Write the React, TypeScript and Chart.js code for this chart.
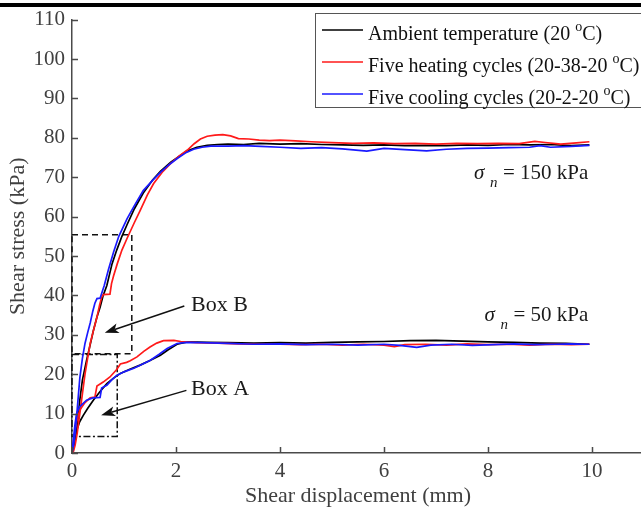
import React, { useEffect, useRef } from 'react';
import { Chart, registerables } from 'chart.js';

Chart.register(...registerables);

// ---------- data (x: shear displacement mm, y: shear stress kPa) ----------
const ambient150: number[][] = [
  [0, 0], [0.03, 1.5], [0.06, 3], [0.1, 7], [0.15, 13.4], [0.2, 18.5], [0.28, 23.5], [0.35, 27.5],
  [0.41, 31], [0.48, 34.5], [0.54, 37], [0.6, 40], [0.67, 42.5], [0.77, 48], [0.86, 51.5],
  [0.96, 55], [1.06, 58], [1.2, 62], [1.37, 66], [1.55, 69.3], [1.7, 71.5], [1.9, 73.8],
  [2.03, 75], [2.2, 76.6], [2.4, 77.6], [2.6, 78.1], [2.8, 78.3], [3.0, 78.4], [3.3, 78.3],
  [3.6, 78.6], [4.0, 78.4], [4.4, 78.5], [4.8, 78.3], [5.2, 78.2], [5.6, 78.1], [6.0, 78.2],
  [6.4, 78.0], [6.8, 78.1], [7.2, 78.0], [7.6, 78.2], [8.0, 78.1], [8.4, 78.3], [8.8, 78.2],
  [9.2, 78.3], [9.6, 78.0], [9.95, 78.2],
];
const heating150: number[][] = [
  [0, 0], [0.03, 0.5], [0.06, 2], [0.1, 5], [0.15, 10], [0.2, 15], [0.25, 20], [0.3, 24],
  [0.35, 27.8], [0.42, 31.5], [0.48, 34.5], [0.53, 37.5], [0.57, 39.5], [0.6, 40.2], [0.73, 40.3],
  [0.76, 43], [0.8, 45], [0.87, 48], [0.96, 51.5], [1.06, 54.5], [1.2, 58.5], [1.31, 61.5],
  [1.45, 65.5], [1.57, 68.4], [1.75, 71.5], [1.89, 73.4], [2.05, 75.3], [2.22, 76.9], [2.35, 78.5],
  [2.47, 79.7], [2.6, 80.4], [2.75, 80.7], [2.9, 80.8], [3.05, 80.5], [3.2, 79.8], [3.4, 79.7],
  [3.6, 79.4], [3.8, 79.3], [4.0, 79.4], [4.3, 79.2], [4.6, 79.0], [5.0, 78.8], [5.4, 78.6],
  [5.8, 78.7], [6.2, 78.5], [6.6, 78.6], [7.0, 78.4], [7.4, 78.6], [7.8, 78.5], [8.2, 78.6],
  [8.6, 78.5], [8.9, 79.1], [9.1, 78.8], [9.4, 78.4], [9.7, 78.7], [9.95, 79.0],
];
const cooling150: number[][] = [
  [0, 0], [0.03, 2], [0.06, 5], [0.1, 11], [0.15, 19], [0.2, 24], [0.25, 27.8], [0.3, 30.5],
  [0.35, 33], [0.4, 36], [0.44, 38], [0.48, 39.2], [0.54, 39.3], [0.57, 40.5], [0.62, 42.5],
  [0.7, 46.5], [0.8, 51], [0.9, 55], [1.06, 59.5], [1.2, 62.8], [1.37, 66.6], [1.55, 69.2],
  [1.7, 71.2], [1.85, 73], [2.03, 74.8], [2.2, 76.3], [2.34, 77.1], [2.5, 77.6], [2.67, 77.9],
  [3.0, 77.9], [3.3, 78.0], [3.63, 77.8], [4.0, 77.6], [4.4, 77.3], [4.8, 77.5], [5.2, 77.2],
  [5.67, 76.6], [6.0, 77.3], [6.4, 77.0], [6.82, 76.7], [7.2, 77.1], [7.6, 77.3], [8.0, 77.4],
  [8.4, 77.5], [8.8, 77.6], [9.0, 78.0], [9.2, 77.6], [9.6, 77.8], [9.95, 78.1],
];
const ambient50: number[][] = [
  [0, 0], [0.04, 2.5], [0.09, 5.8], [0.15, 8], [0.22, 9.6], [0.3, 11.3], [0.41, 13.4],
  [0.54, 15.6], [0.67, 17.6], [0.8, 19], [0.93, 20.2], [1.1, 21.2], [1.31, 22.3], [1.5, 23.5],
  [1.7, 24.8], [1.85, 26.2], [2.02, 27.6], [2.22, 28.2], [2.6, 28.1], [3.0, 28.0], [3.5, 27.9],
  [4.0, 28.0], [4.5, 27.9], [5.0, 28.1], [5.5, 28.2], [6.0, 28.3], [6.5, 28.5], [7.0, 28.6],
  [7.5, 28.4], [8.0, 28.2], [8.5, 28.1], [9.0, 27.9], [9.5, 27.8], [9.95, 27.6],
];
const heating50: number[][] = [
  [0, 0], [0.04, 4], [0.08, 7.5], [0.15, 10.9], [0.25, 12.8], [0.35, 14], [0.44, 14.2],
  [0.48, 17], [0.6, 18], [0.73, 19.3], [0.86, 21.2], [0.93, 22.6], [1.05, 23], [1.12, 23.4],
  [1.25, 24.4], [1.38, 25.8], [1.5, 26.9], [1.63, 27.9], [1.76, 28.5], [1.96, 28.6], [2.09, 28.3],
  [2.4, 28.0], [2.8, 27.9], [3.2, 27.7], [3.6, 27.6], [4.0, 27.6], [4.4, 27.5], [4.8, 27.6],
  [5.2, 27.4], [5.6, 27.6], [6.0, 27.4], [6.2, 27.0], [6.4, 27.5], [6.8, 27.6], [7.2, 27.4],
  [7.6, 27.7], [8.0, 27.5], [8.4, 27.6], [8.8, 27.4], [9.2, 27.6], [9.6, 27.5], [9.95, 27.6],
];
const cooling50: number[][] = [
  [0, 0], [0.03, 4], [0.06, 7.5], [0.09, 10.1], [0.15, 11.8], [0.28, 13.4], [0.4, 14],
  [0.54, 14.1], [0.57, 16.5], [0.62, 16.9], [0.67, 17.2], [0.76, 18.5], [0.86, 19.7], [1.0, 20.6],
  [1.19, 21.5], [1.35, 22.5], [1.5, 23.5], [1.67, 25], [1.83, 26.5], [2.02, 27.8], [2.2, 28.1],
  [2.5, 28.0], [3.0, 27.8], [3.5, 27.6], [4.0, 27.7], [4.5, 27.5], [5.0, 27.6], [5.5, 27.4],
  [6.0, 27.6], [6.3, 27.3], [6.63, 26.8], [6.9, 27.4], [7.3, 27.6], [7.7, 27.3], [8.1, 27.5],
  [8.5, 27.7], [8.9, 27.5], [9.3, 27.6], [9.6, 27.7], [9.95, 27.6],
];

const legendLabels: string[][] = [
  ['Ambient temperature (20 ', 'C)'],
  ['Five heating cycles (20-38-20 ', 'C)'],
  ['Five cooling cycles (20-2-20 ', 'C)'],
];
const seriesColors = ['#000000', '#ff1a1a', '#1a1aff'];

const xRange = [0, 11];
const yRange = [0, 110];
const xStep = 2;
const yStep = 10;
const xTitle = 'Shear displacement (mm)';
const yTitle = 'Shear stress (kPa)';

// annotation boxes [x0, x1, y0, y1] in data units
const boxB = [0, 1.15, 25.2, 55.4];
const boxA = [0, 0.87, 4.2, 25];
// arrows [xFrom, yFrom, xTo, yTo] in data units
const arrowB = [2.16, 37.3, 0.63, 30.5];
const arrowA = [2.2, 15.9, 0.56, 9.6];
const boxLabels = ['Box B', 'Box A'];
const boxLabelPos = [[2.29, 37.4], [2.29, 16.2]];
const stressLabels = ['150 kPa', '50 kPa'];
const stressLabelPos = [[9.93, 71.4], [9.93, 35.3]];

const FONT = "'Liberation Serif', 'Times New Roman', Times, serif";
const AXIS_COLOR = '#4a4a4a';

const overlayPlugin = {
  id: 'overlay',
  beforeDatasetsDraw(chart: any) {
    const { ctx } = chart;
    const xs = chart.scales.x;
    const ys = chart.scales.y;
    const rect = (b: number[], dash: number[]) => {
      const x0 = xs.getPixelForValue(b[0]);
      const x1 = xs.getPixelForValue(b[1]);
      const y0 = ys.getPixelForValue(b[2]);
      const y1 = ys.getPixelForValue(b[3]);
      ctx.save();
      ctx.strokeStyle = '#111';
      ctx.lineWidth = 1.5;
      ctx.setLineDash(dash);
      ctx.strokeRect(x0, y1, x1 - x0, y0 - y1);
      ctx.restore();
    };
    rect(boxB, [6, 4]);
    rect(boxA, [7, 2.5, 2, 2.5]);
  },
  afterDatasetsDraw(chart: any) {
    const { ctx } = chart;
    const xs = chart.scales.x;
    const ys = chart.scales.y;
    const px = (v: number) => xs.getPixelForValue(v);
    const py = (v: number) => ys.getPixelForValue(v);

    // arrows
    const drawArrow = (a: number[]) => {
      const x1 = px(a[0]), y1 = py(a[1]), x2 = px(a[2]), y2 = py(a[3]);
      const ang = Math.atan2(y2 - y1, x2 - x1);
      const c = Math.cos(ang), s = Math.sin(ang);
      const hl = 14, hw = 5;
      const bx = x2 - hl * c, by = y2 - hl * s;
      const nx = x2 - hl * 0.75 * c, ny = y2 - hl * 0.75 * s;
      ctx.save();
      ctx.strokeStyle = '#111';
      ctx.fillStyle = '#111';
      ctx.lineWidth = 1.5;
      ctx.beginPath();
      ctx.moveTo(x1, y1);
      ctx.lineTo(nx, ny);
      ctx.stroke();
      ctx.beginPath();
      ctx.moveTo(x2, y2);
      ctx.lineTo(bx - hw * s, by + hw * c);
      ctx.lineTo(nx, ny);
      ctx.lineTo(bx + hw * s, by - hw * c);
      ctx.closePath();
      ctx.fill();
      ctx.restore();
    };
    drawArrow(arrowB);
    drawArrow(arrowA);

    ctx.save();
    ctx.fillStyle = '#1a1a1a';
    ctx.textBaseline = 'middle';
    ctx.textAlign = 'left';
    ctx.font = `22px ${FONT}`;
    boxLabels.forEach((t, i) => {
      ctx.fillText(t, px(boxLabelPos[i][0]), py(boxLabelPos[i][1]));
    });

    // sigma_n labels
    stressLabels.forEach((t, i) => {
      const xr = px(stressLabelPos[i][0]);
      const yc = py(stressLabelPos[i][1]);
      ctx.font = `21px ${FONT}`;
      ctx.textAlign = 'right';
      ctx.textBaseline = 'alphabetic';
      const main = '= ' + t;
      const w = ctx.measureText(main).width;
      const base = yc + 7;
      ctx.fillText(main, xr, base);
      ctx.font = `italic 15px ${FONT}`;
      ctx.textAlign = 'left';
      ctx.fillText('n', xr - w - 13, base + 8);
      ctx.font = `italic 21px ${FONT}`;
      ctx.fillText('\u03c3', xr - w - 29, base);
    });
    ctx.restore();

    // legend
    ctx.save();
    const lx = 315.5, ly = 13.5, lw = 340, lh = 94;
    ctx.fillStyle = '#ffffff';
    ctx.fillRect(lx, ly, lw, lh);
    ctx.strokeStyle = '#555';
    ctx.lineWidth = 1;
    ctx.strokeRect(lx, ly, lw, lh);
    legendLabels.forEach((parts, i) => {
      const base = 39.5 + i * 32;
      const lineY = base - 9.5;
      ctx.strokeStyle = seriesColors[i];
      ctx.lineWidth = 1.6;
      ctx.beginPath();
      ctx.moveTo(322, lineY);
      ctx.lineTo(363, lineY);
      ctx.stroke();
      ctx.fillStyle = '#111';
      ctx.textAlign = 'left';
      ctx.textBaseline = 'alphabetic';
      ctx.font = `20px ${FONT}`;
      let x = 368;
      ctx.fillText(parts[0], x, base);
      x += ctx.measureText(parts[0]).width;
      ctx.font = `14px ${FONT}`;
      ctx.fillText('o', x, base - 9);
      x += ctx.measureText('o').width;
      ctx.font = `20px ${FONT}`;
      ctx.fillText(parts[1], x, base);
    });
    ctx.restore();
  },
  afterDraw(chart: any) {
    const { ctx, chartArea } = chart;
    const xs = chart.scales.x;
    const ys = chart.scales.y;
    ctx.save();
    ctx.strokeStyle = AXIS_COLOR;
    ctx.lineWidth = 1.5;
    ctx.beginPath();
    xs.ticks.forEach((t: any) => {
      const p = Math.round(xs.getPixelForValue(t.value)) + 0.5;
      ctx.moveTo(p, chartArea.bottom);
      ctx.lineTo(p, chartArea.bottom - 6);
    });
    ys.ticks.forEach((t: any) => {
      const p = Math.round(ys.getPixelForValue(t.value)) + 0.5;
      ctx.moveTo(chartArea.left, p);
      ctx.lineTo(chartArea.left + 6, p);
    });
    ctx.stroke();
    ctx.restore();
  },
};

function mk(label: string, data: number[][], color: string, order: number) {
  return {
    label,
    data: data.map((p) => ({ x: p[0], y: p[1] })),
    borderColor: color,
    backgroundColor: color,
    borderWidth: 1.7,
    pointRadius: 0,
    showLine: true,
    tension: 0,
    fill: false,
    order,
  };
}

export default function App() {
  const ref = useRef<HTMLCanvasElement | null>(null);
  useEffect(() => {
    if (!ref.current) return;
    const chart = new Chart(ref.current, {
      type: 'scatter',
      data: {
        datasets: [
          mk('Ambient 150', ambient150, seriesColors[0], 2),
          mk('Heating 150', heating150, seriesColors[1], 1),
          mk('Cooling 150', cooling150, seriesColors[2], 0),
          mk('Ambient 50', ambient50, seriesColors[0], 2),
          mk('Heating 50', heating50, seriesColors[1], 1),
          mk('Cooling 50', cooling50, seriesColors[2], 0),
        ],
      },
      options: {
        responsive: false,
        animation: false,
        events: [],
        layout: { padding: { top: 17, right: 0, left: 0, bottom: 0 } },
        plugins: { legend: { display: false }, tooltip: { enabled: false } },
        scales: {
          x: {
            type: 'linear',
            min: xRange[0],
            max: xRange[1],
            afterFit: (s: any) => { s.height = 63; },
            grid: { display: false, drawTicks: false },
            border: { display: true, color: AXIS_COLOR, width: 1.5 },
            ticks: {
              stepSize: xStep,
              includeBounds: false,
              padding: 6,
              color: '#404040',
              font: { family: FONT, size: 21 },
              maxRotation: 0,
            },
            title: {
              display: true,
              text: xTitle,
              color: '#404040',
              font: { family: FONT, size: 22 },
              padding: { top: 0, bottom: 7 },
            },
          },
          y: {
            type: 'linear',
            min: yRange[0],
            max: yRange[1],
            afterFit: (s: any) => { s.width = 72; },
            grid: { display: false, drawTicks: false },
            border: { display: true, color: AXIS_COLOR, width: 1.5 },
            ticks: {
              stepSize: yStep,
              padding: 7,
              color: '#404040',
              font: { family: FONT, size: 21 },
            },
            title: {
              display: true,
              text: yTitle,
              color: '#404040',
              font: { family: FONT, size: 22 },
              padding: { top: 5, bottom: 0 },
            },
          },
        },
      } as any,
      plugins: [overlayPlugin],
    });
    return () => chart.destroy();
  }, []);

  return (
    <div style={{ position: 'absolute', left: 0, top: 0, width: 641, height: 516, overflow: 'hidden', background: '#fff' }}>
      <div style={{ position: 'absolute', left: 0, top: 3, width: 641, height: 4, background: '#000' }} />
      <canvas ref={ref} width={644} height={516} style={{ position: 'absolute', left: 0, top: 0, width: 644, height: 516 }} />
    </div>
  );
}
